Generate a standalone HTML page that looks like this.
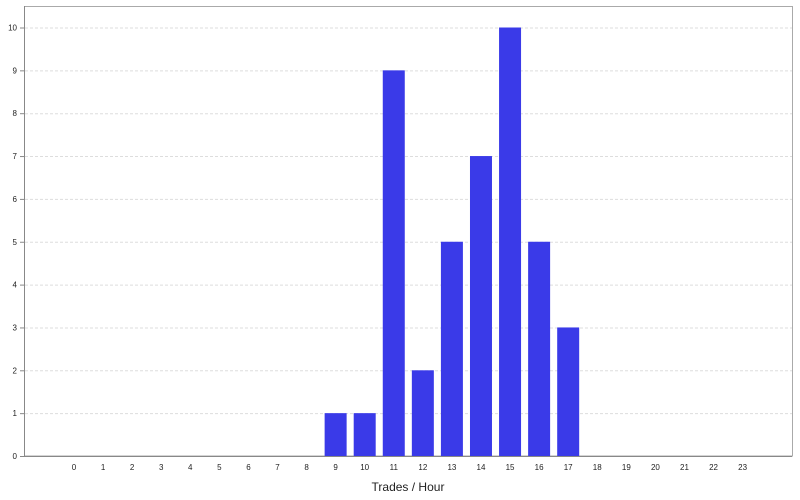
<!DOCTYPE html>
<html><head><meta charset="utf-8"><style>
html,body{margin:0;padding:0;background:#fff;width:800px;height:500px;overflow:hidden}
text{font-family:"Liberation Sans",sans-serif}
</style></head><body>
<svg id="chart" width="800" height="500">
<rect x="24.5" y="6.5" width="768" height="449.5" fill="#fff" stroke="#aaa"/>
<g id="grid"></g><g id="bars"></g><g id="xt"></g><g id="yt"></g>
<line x1="24.5" y1="6" x2="24.5" y2="456" stroke="#888"/>
<line x1="24" y1="456.5" x2="792" y2="456.5" stroke="#888"/>
<text x="408" y="491" font-size="12" text-anchor="middle" fill="#222">Trades / Hour</text>
</svg>
<script>
const categories=[0,1,2,3,4,5,6,7,8,9,10,11,12,13,14,15,16,17,18,19,20,21,22,23];
const values=[0,0,0,0,0,0,0,0,0,1,1,9,2,5,7,10,5,3,0,0,0,0,0,0];
const yTicks=[0,1,2,3,4,5,6,7,8,9,10];
const NS="http://www.w3.org/2000/svg";
const x=i=>74+i*29.07;
const y=v=>456-v*42.85;
function mk(tag,attrs,parent,txt){const e=document.createElementNS(NS,tag);for(const k in attrs)e.setAttribute(k,attrs[k]);if(txt!==undefined)e.textContent=txt;document.getElementById(parent).appendChild(e);return e;}
yTicks.forEach(t=>{
  if(t>0){const g=mk('line',{x1:25,x2:792,y1:y(t)+0.5,y2:y(t)+0.5,stroke:'#ddd','stroke-dasharray':'3,2'},'grid');
  
  }
  const tk=mk('line',{x1:20,x2:24,y1:y(t)+0.5,y2:y(t)+0.5,stroke:'#888'},'yt');
  
  
  const l=mk('text',{x:17,y:y(t)+3,'font-size':8,'text-anchor':'end',fill:'#222'},'yt',String(t));
  
  
});
categories.forEach((c,i)=>{
  const l=mk('text',{x:x(i),y:470,'font-size':8,'text-anchor':'middle',fill:'#222'},'xt',String(c));
  
  
  const v=values[i];
  if(v>0){const b=mk('rect',{x:x(i)-11,y:y(v),width:22,height:456-y(v),fill:'#3a3ae8'},'bars');
  
  }
});
</script>
</body></html>
